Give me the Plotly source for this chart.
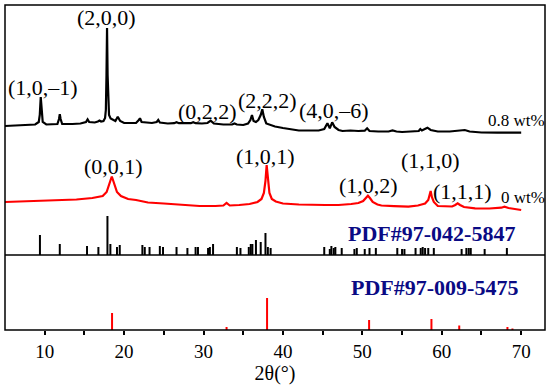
import plotly.graph_objects as go

# ---- data (intensities in arbitrary units, already offset) ----
# 0.8 wt% sample
two_theta_08 = [5.0, 6.0, 7.0, 8.0, 8.8, 9.25, 9.38, 9.5, 9.62, 9.75, 10.2, 11.0, 11.6, 11.8, 11.9, 12.0,
                12.2, 13.5, 14.5, 15.2, 15.4, 15.6, 16.3, 16.7, 16.9, 17.1, 17.4, 17.6, 17.7, 17.78, 17.85,
                17.92, 18.0, 18.1, 18.3, 18.6, 18.9, 19.2, 19.5, 20.0, 21.5, 21.85, 22.0, 22.2, 23.5, 24.1,
                24.3, 24.5, 25.5, 26.3, 26.6, 26.9, 27.5, 28.4, 28.7, 29.0, 29.8, 30.5, 30.9, 31.3, 32.5,
                33.6, 33.9, 34.2, 35.0, 35.6, 35.9, 36.1, 36.3, 36.6, 36.9, 37.2, 37.4, 37.6, 37.9, 38.5,
                39.0, 40.0, 41.0, 42.0, 43.0, 44.5, 45.2, 45.4, 45.6, 45.9, 46.2, 46.5, 47.0, 47.5, 48.5,
                49.5, 50.3, 50.6, 50.9, 52.0, 53.3, 53.8, 54.3, 55.0, 56.5, 57.1, 57.3, 57.5, 58.0, 58.2,
                58.6, 59.5, 61.0, 62.0, 62.5, 62.9, 63.5, 65.0, 67.0, 70.0]
intensity_08 = [129.0, 129.5, 129.5, 130.0, 130.5, 133.0, 140.0, 158.0, 140.0, 133.0, 130.5, 130.5, 131.0, 136.0, 140.7, 136.0,
                131.0, 131.0, 131.5, 133.0, 135.7, 133.0, 132.5, 133.5, 134.5, 133.5, 134.0, 137.0, 145.0, 180.0, 227.0,
                180.0, 148.0, 140.0, 136.5, 135.0, 134.0, 138.3, 134.0, 132.0, 132.0, 135.0, 136.7, 133.0, 132.0, 133.0,
                135.0, 132.5, 131.5, 131.8, 132.8, 131.8, 131.5, 131.8, 132.8, 131.8, 131.5, 132.0, 134.3, 131.5, 130.5,
                130.5, 131.5, 130.5, 130.0, 131.5, 135.0, 140.0, 134.0, 133.0, 135.0, 140.0, 145.7, 138.0, 131.5, 129.5,
                128.5, 127.0, 125.5, 124.5, 124.5, 124.5, 126.0, 128.5, 131.7, 126.7, 132.7, 128.0, 125.0, 124.0, 124.5,
                124.0, 124.3, 126.7, 124.0, 123.5, 123.5, 124.5, 123.5, 123.0, 123.5, 124.0, 126.0, 124.5, 126.5, 127.3,
                125.0, 123.5, 123.5, 124.0, 124.5, 125.0, 123.5, 122.5, 122.3, 122.3]

# 0 wt% sample
two_theta_00 = [5.0, 8.0, 10.0, 12.0, 14.0, 16.0, 17.3, 17.8, 18.1, 18.3, 18.45, 18.6, 18.8, 19.1, 19.6,
                20.5, 21.5, 23.0, 25.0, 27.0, 29.5, 31.5, 32.5, 32.9, 33.3, 34.5, 35.8, 36.8, 37.3, 37.6,
                37.8, 37.95, 38.1, 38.3, 38.6, 39.1, 40.0, 42.0, 45.3, 47.0, 48.6, 49.5, 50.1, 50.45, 50.7,
                50.95, 51.3, 51.9, 52.4, 54.0, 55.8, 57.0, 57.9, 58.3, 58.5, 58.6, 58.75, 59.0, 59.5, 60.5,
                61.3, 61.7, 62.0, 62.3, 62.8, 64.2, 66.0, 67.5, 67.9, 68.4, 69.0, 70.0]
intensity_00 = [53.0, 54.0, 54.5, 55.0, 55.5, 57.0, 59.0, 63.0, 69.0, 75.0, 78.5, 75.0, 69.0, 63.0, 59.0,
                56.0, 55.0, 52.5, 51.5, 50.5, 49.0, 49.0, 49.5, 52.0, 49.5, 50.0, 51.0, 53.0, 56.0, 62.0,
                74.0, 90.0, 74.0, 62.0, 56.0, 53.5, 51.5, 50.5, 50.0, 50.0, 51.0, 52.0, 54.0, 57.0, 59.3,
                57.0, 53.0, 50.5, 49.5, 48.8, 48.3, 49.5, 51.5, 55.0, 61.0, 64.0, 58.0, 53.0, 49.0, 48.5,
                48.5, 50.0, 51.7, 50.0, 48.0, 46.7, 46.5, 47.3, 48.3, 47.0, 46.0, 45.0]

# reference PDF#97-042-5847 (stick positions / heights)
pdf1_pos = [9.4, 11.9, 15.33, 16.76, 17.9, 18.27, 19.1, 19.45, 22.3, 22.6, 23.2, 24.5, 24.9, 26.6, 27.97,
            29.0, 29.3, 30.57, 30.8, 31.2, 34.2, 34.65, 35.7, 35.95, 36.15, 36.6, 37.2, 37.8, 38.1, 38.45,
            45.2, 45.9, 46.1, 46.4, 46.6, 47.4, 49.0, 49.3, 50.3, 50.9, 51.7, 54.4, 55.0, 55.3, 56.7,
            57.35, 57.6, 57.9, 58.3, 59.0, 62.5, 63.1, 63.4, 63.65, 65.4, 68.2]
pdf1_int = [20, 11, 9, 8, 39, 11, 8, 10, 10, 8, 8, 9, 8, 8, 7,
            8, 8, 7, 8, 11, 8, 7, 8, 11, 11, 15, 13, 22, 8, 7,
            8, 6, 9, 7, 8, 7, 6, 7, 6, 7, 7, 7, 6, 6, 7,
            7, 8, 7, 7, 7, 6, 7, 7, 7, 6, 7]

# reference PDF#97-009-5475
pdf2_pos = [18.48, 32.9, 38.0, 50.85, 58.7, 62.2, 68.27, 68.9]
pdf2_int = [17, 3, 32, 10, 11, 4.5, 3, 1.5]

x_tick_values = [10, 20, 30, 40, 50, 60, 70]
x_tick_labels = ["10", "20", "30", "40", "50", "60", "70"]

peak_labels_08 = ["(1,0,–1)", "(2,0,0)", "(0,2,2)", "(2,2,2)", "(4,0,–6)"]
peak_label_x_08 = [9.75, 17.8, 30.5, 38.1, 46.4]
peak_label_y_08 = [168, 238, 144, 155, 145]

peak_labels_00 = ["(0,0,1)", "(1,0,1)", "(1,0,2)", "(1,1,0)", "(1,1,1)"]
peak_label_x_00 = [18.6, 37.85, 50.8, 58.6, 62.6]
peak_label_y_00 = [88.5, 99, 69.5, 94.5, 64]

sample_labels = ["0.8 wt%", "0 wt%"]
sample_label_y = [135, 57.5]
pdf_labels = ["PDF#97-042-5847", "PDF#97-009-5475"]


def sticks(pos, h):
    xs, ys = [], []
    for p, v in zip(pos, h):
        xs += [p, p, None]
        ys += [0, v, None]
    return xs, ys


SERIF = "Liberation Serif, Times New Roman, serif"

fig = go.Figure()
fig.add_trace(go.Scatter(x=two_theta_08, y=intensity_08, mode="lines",
                         line=dict(color="black", width=2.2), xaxis="x", yaxis="y", showlegend=False))
fig.add_trace(go.Scatter(x=two_theta_00, y=intensity_00, mode="lines",
                         line=dict(color="#ff0000", width=2.2), xaxis="x", yaxis="y", showlegend=False))
sx, sy = sticks(pdf1_pos, pdf1_int)
fig.add_trace(go.Scatter(x=sx, y=sy, mode="lines", line=dict(color="black", width=2),
                         xaxis="x", yaxis="y", showlegend=False))
sx, sy = sticks(pdf2_pos, pdf2_int)
fig.add_trace(go.Scatter(x=sx, y=sy, mode="lines", line=dict(color="#ff0000", width=2),
                         xaxis="x", yaxis="y2", showlegend=False))

ann = []
for t, x, y in zip(peak_labels_08, peak_label_x_08, peak_label_y_08):
    ann.append(dict(text=t, x=x, y=y, xref="x", yref="y", showarrow=False,
                    font=dict(family=SERIF, size=22, color="black")))
for t, x, y in zip(peak_labels_00, peak_label_x_00, peak_label_y_00):
    ann.append(dict(text=t, x=x, y=y, xref="x", yref="y", showarrow=False,
                    font=dict(family=SERIF, size=22, color="black")))
for t, y in zip(sample_labels, sample_label_y):
    ann.append(dict(text=t, x=1.003, y=y, xref="paper", yref="y", xanchor="right", showarrow=False,
                    font=dict(family=SERIF, size=17, color="black")))
ann.append(dict(text="<b>" + pdf_labels[0] + "</b>", x=58.75, y=22, xref="x", yref="y", showarrow=False,
                font=dict(family=SERIF, size=22, color="#0a0a84")))
ann.append(dict(text="<b>" + pdf_labels[1] + "</b>", x=59.05, y=43, xref="x", yref="y2", showarrow=False,
                font=dict(family=SERIF, size=22, color="#0a0a84")))

split = 75 / 325
fig.update_layout(
    width=550, height=388,
    margin=dict(l=5, r=5, t=5, b=58),
    paper_bgcolor="white", plot_bgcolor="white",
    annotations=ann,
    xaxis=dict(range=[5, 73], anchor="y2", tickvals=x_tick_values, ticktext=x_tick_labels,
               ticks="outside", ticklen=4, tickwidth=1.5, tickcolor="black",
               minor=dict(tickvals=[15, 25, 35, 45, 55, 65], ticks="outside", ticklen=4,
                          tickwidth=1.5, tickcolor="black"),
               showgrid=False, zeroline=False, showline=False,
               tickfont=dict(family=SERIF, size=19, color="black"),
               title=dict(text="2θ(°)", font=dict(family=SERIF, size=20, color="black"), standoff=2)),
    yaxis=dict(domain=[split, 1], range=[0, 250], showticklabels=False, ticks="",
               showgrid=False, zeroline=False, showline=False),
    yaxis2=dict(domain=[0, split], range=[0, 75], showticklabels=False, ticks="",
                showgrid=False, zeroline=False, showline=False),
    shapes=[
        dict(type="rect", xref="paper", yref="paper", x0=0, x1=1, y0=0, y1=1,
             line=dict(color="black", width=1.5), layer="above"),
        dict(type="line", xref="paper", yref="paper", x0=0, x1=1, y0=split, y1=split,
             line=dict(color="black", width=1.5), layer="above"),
    ],
)

fig.write_html("out.html", config={"displayModeBar": False},
               post_script="document.body.style.margin='0';document.body.style.overflow='hidden';")
